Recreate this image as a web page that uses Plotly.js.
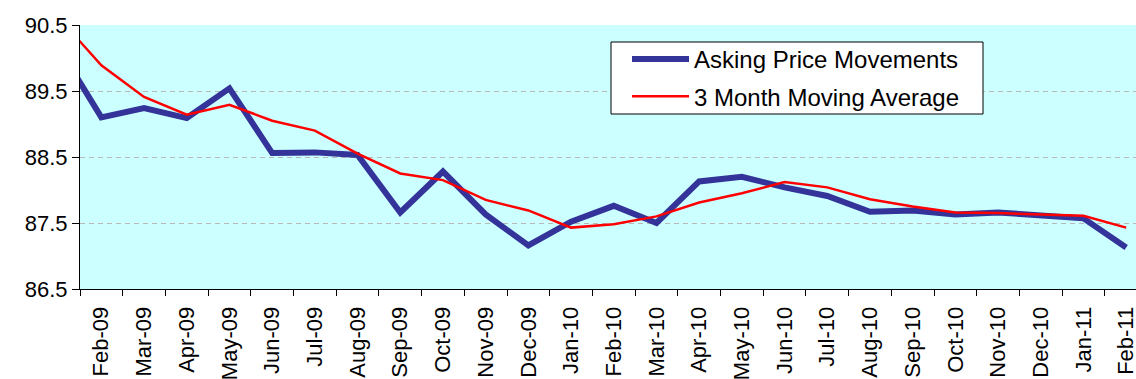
<!DOCTYPE html>
<html>
<head>
<meta charset="utf-8">
<script src="https://cdn.plot.ly/plotly-3.0.1.min.js"></script>
<style>html,body{margin:0;padding:0;background:#fff;}#chart{width:1136px;height:379px;}</style>
</head>
<body>
<div id="chart"></div>
<script>
const months = ["Jan-09","Feb-09","Mar-09","Apr-09","May-09","Jun-09","Jul-09","Aug-09","Sep-09","Oct-09","Nov-09","Dec-09",
  "Jan-10","Feb-10","Mar-10","Apr-10","May-10","Jun-10","Jul-10","Aug-10","Sep-10","Oct-10","Nov-10","Dec-10",
  "Jan-11","Feb-11"];
const askingPrice = [90.16, 89.10, 89.24, 89.09, 89.54, 88.56, 88.57, 88.53, 87.66, 88.28, 87.63, 87.16,
  87.52, 87.76, 87.50, 88.13, 88.20, 88.04, 87.91, 87.67, 87.69, 87.63, 87.66, 87.62, 87.57, 87.13];
const movingAvg = [90.61, 89.89, 89.41, 89.14, 89.29, 89.05, 88.90, 88.55, 88.25, 88.15, 87.85, 87.69,
  87.43, 87.48, 87.60, 87.81, 87.95, 88.12, 88.04, 87.86, 87.75, 87.66, 87.65, 87.63, 87.61, 87.43];
const yTicks = [86.5, 87.5, 88.5, 89.5, 90.5];

const font = "Liberation Sans, Arial, sans-serif";
const W = 1136, H = 379, ML = 80, MR = 0, MT = 25, MB = 90;
const PW = W - ML - MR, PH = H - MT - MB;
const px = x => (x - ML) / PW;
const py = y => 1 - (y - MT) / PH;

const traces = [
  {x: months, y: askingPrice, type: "scatter", mode: "lines", name: "Asking Price Movements",
   line: {color: "#333399", width: 6}, legendgroup: "a"},
  {x: months, y: movingAvg, type: "scatter", mode: "lines", name: "3 Month Moving Average",
   line: {color: "#ff0000", width: 2.5}, legendgroup: "b"}
];

const layout = {
  width: W, height: H,
  margin: {l: ML, r: MR, t: MT, b: MB},
  paper_bgcolor: "#ffffff",
  plot_bgcolor: "#ccffff",
  font: {family: font, size: 22, color: "#000"},
  showlegend: true,
  legend: {
    x: px(627), y: py(37), xanchor: "left", yanchor: "top",
    bgcolor: "rgba(0,0,0,0)", borderwidth: 0,
    font: {family: font, size: 24, color: "#000"},
    itemwidth: 57, tracegroupgap: 3, traceorder: "grouped"
  },
  shapes: [
    {type: "rect", xref: "paper", yref: "paper", x0: px(611), x1: px(983), y0: py(114), y1: py(42),
     fillcolor: "#ffffff", line: {color: "#000000", width: 1}, layer: "above"}
  ],
  xaxis: {
    type: "category", categoryorder: "array", categoryarray: months,
    range: [0.5, 25.23],
    tickson: "boundaries", ticks: "outside", ticklen: 6, tickcolor: "#000", tickwidth: 1,
    tickangle: -90, showgrid: false, showline: true, linecolor: "#000", linewidth: 1,
    zeroline: false, ticklabelstandoff: 8, tickfont: {family: font, size: 22, color: "#000"}
  },
  yaxis: {
    range: [86.5, 90.5], tickvals: yTicks, ticktext: yTicks.map(v => v.toFixed(1)),
    ticks: "outside", ticklen: 7, tickcolor: "#000", tickwidth: 1,
    showline: true, linecolor: "#000", linewidth: 1, zeroline: false,
    showgrid: true, gridcolor: "#b8b8b8", gridwidth: 1, griddash: "5px,4px",
    tickfont: {family: font, size: 22, color: "#000"}
  }
};

Plotly.newPlot("chart", traces, layout, {displayModeBar: false, staticPlot: true});
</script>
</body>
</html>
